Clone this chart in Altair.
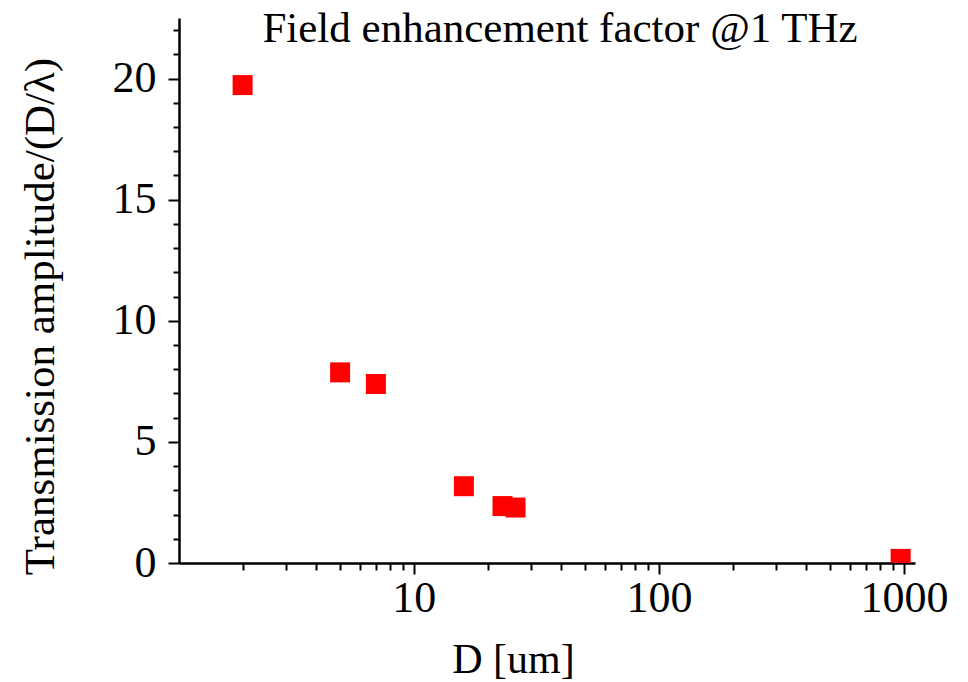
import altair as alt
import pandas as pd

# data
D_um = [2, 5, 7, 16, 23, 26, 970]
amplitude = [19.73, 7.87, 7.39, 3.17, 2.35, 2.29, 0.17]

x_ticks = [2, 3, 4, 5, 6, 7, 8, 9, 10, 20, 30, 40, 50, 60, 70, 80, 90,
           100, 200, 300, 400, 500, 600, 700, 800, 900, 1000]
x_major = [10, 100, 1000]
y_ticks = list(range(0, 23))

df = pd.DataFrame({"D": D_um, "A": amplitude})

FONT = "Liberation Serif"

x_major_test = " || ".join(f"datum.value == {v}" for v in x_major)

chart = alt.Chart(df).mark_square(
    size=400, color="#ff0000", opacity=1, filled=True, clip=True
).encode(
    x=alt.X(
        "D:Q",
        scale=alt.Scale(type="log", domain=[1.1, 1110], nice=False),
        axis=alt.Axis(
            title="D [um]",
            values=x_ticks,
            format="d",
            labelExpr=f"({x_major_test}) ? datum.label : ''",
            tickSize={"condition": {"test": x_major_test, "value": 11}, "value": 7},
            tickWidth=2,
            tickColor="black",
            domainColor="black",
            domainWidth=2.5,
            labelFont=FONT,
            labelFontSize=44,
            labelColor="black",
            labelPadding=2,
            labelOverlap=False,
            labelFlush=False,
            labelBound=False,
            titleFont=FONT,
            titleFontSize=42,
            titleFontWeight="normal",
            titleColor="black",
            titleX=334,
            titleY=109,
            titleBaseline="alphabetic",
            titleAlign="center",
            grid=False,
        ),
    ),
    y=alt.Y(
        "A:Q",
        scale=alt.Scale(domain=[0, 22.5], nice=False, zero=True),
        axis=alt.Axis(
            title="Transmission amplitude/(D/λ)",
            values=y_ticks,
            labelExpr="datum.value % 5 == 0 ? datum.label : ''",
            tickSize={"condition": {"test": "datum.value % 5 == 0", "value": 11}, "value": 6},
            tickWidth=2,
            tickColor="black",
            domainColor="black",
            domainWidth=2.5,
            labelFont=FONT,
            labelFontSize=44,
            labelColor="black",
            labelPadding=12,
            labelOverlap=False,
            labelFlush=False,
            labelBound=False,
            titleFont=FONT,
            titleFontSize=43,
            titleFontWeight="normal",
            titleColor="black",
            titleX=-126,
            titleY=298,
            titleAngle=-90,
            titleBaseline="alphabetic",
            titleAlign="center",
            grid=False,
        ),
    ),
).properties(
    width=736,
    height=545,
    title=alt.TitleParams(
        text="Field enhancement factor @1 THz",
        font=FONT,
        fontSize=43,
        fontWeight="normal",
        color="black",
        anchor="middle",
        baseline="alphabetic",
        offset=0,
        dx=13,
        dy=77,
    ),
    autosize=alt.AutoSizeParams(type="none"),
    padding={"left": 179, "top": 18, "right": 53, "bottom": 119},
).configure_view(
    strokeOpacity=0
)

chart.save("out.html", embed_options={"renderer": "svg", "actions": False})
